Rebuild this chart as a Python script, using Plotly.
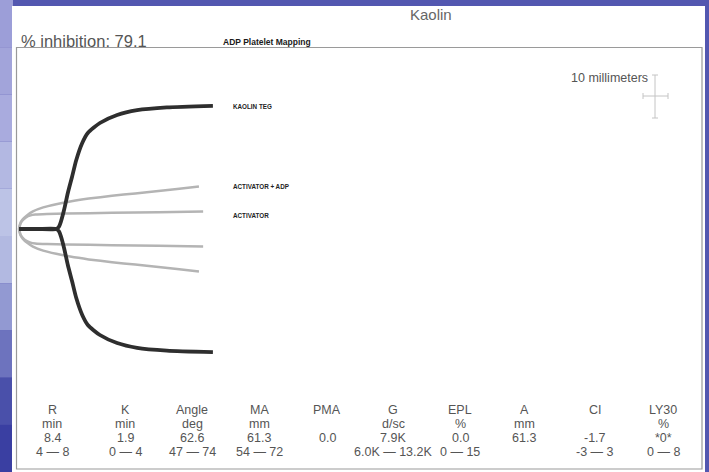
import plotly.graph_objects as go

# ---- data (time in minutes, half-amplitude in mm) ----
kaolin_t = [0, 4.0, 8.0, 8.6, 9.0, 9.7, 10.5, 11.4, 12.3, 13.6, 14.8, 17.4, 21.1, 25.4, 31.8, 41.7]
kaolin_a = [0, 0, 0, 0.6, 1.8, 4.8, 9.0, 13.0, 17.2, 21.5, 24.0, 26.5, 28.5, 29.7, 30.4, 30.8]

adp_t = [0, 0.3, 0.8, 1.7, 3.0, 5.2, 8.0, 11.0, 15.0, 20.0, 25.0, 30.0, 34.0, 38.7]
adp_a = [0, 1.5, 2.4, 3.4, 4.4, 5.4, 6.2, 6.9, 7.6, 8.3, 8.9, 9.5, 10.0, 10.6]

act_t = [0, 0.3, 0.8, 1.5, 2.5, 3.5, 6.0, 10.0, 20.0, 30.0, 39.6]
act_a = [0, 1.3, 2.2, 2.9, 3.4, 3.6, 3.75, 3.85, 4.05, 4.2, 4.4]

curve_labels = ["KAOLIN TEG", "ACTIVATOR + ADP", "ACTIVATOR"]

param_names = ["R", "K", "Angle", "MA", "PMA", "G", "EPL", "A", "CI", "LY30"]
param_units = ["min", "min", "deg", "mm", "", "d/sc", "%", "mm", "", "%"]
param_values = ["8.4", "1.9", "62.6", "61.3", "0.0", "7.9K", "0.0", "61.3", "-1.7", "*0*"]
param_ranges = ["4 \u2014 8", "0 \u2014 4", "47 \u2014 74", "54 \u2014 72", "",
                "6.0K \u2014 13.2K", "0 \u2014 15", "", "-3 \u2014 3", "0 \u2014 8"]

W, H = 709, 472
def px(x):
    return x / W
def py(y):
    return 1 - y / H

# axis scaling: x px = 19 + t*4.65 ; y px = 229 - a*4
X0, XS = 19.0, 4.65
Y0, YS = 229.0, 4.0
xr = [(0 - X0) / XS, (W - X0) / XS]
yr = [(Y0 - H) / YS, (Y0 - 0) / YS]

fig = go.Figure()
gray = "#b4b4b4"
for t, a in [(adp_t, adp_a), (act_t, act_a)]:
    for s in (1, -1):
        fig.add_trace(go.Scatter(x=t, y=[s * v for v in a], mode="lines",
                                 line=dict(color=gray, width=2.5, shape="spline", smoothing=0.6),
                                 hoverinfo="skip", showlegend=False))
for s in (1, -1):
    fig.add_trace(go.Scatter(x=kaolin_t, y=[s * v for v in kaolin_a], mode="lines",
                             line=dict(color="#2e2e2e", width=3.8, shape="spline", smoothing=0.6),
                             hoverinfo="skip", showlegend=False))

shapes = []
shapes.append(dict(type="rect", xref="paper", yref="paper", x0=0, x1=1, y0=0, y1=1,
                   fillcolor="#5357b0", line=dict(width=0), layer="below"))
left_cols = ["#9c9ed8", "#a2a4da", "#a9abde", "#b3b8e2", "#bcc3e6", "#b2b9e1",
             "#9299d2", "#6d73be", "#4a50aa", "#3a3fa2"]
n = len(left_cols)
for i, c in enumerate(left_cols):
    shapes.append(dict(type="rect", xref="paper", yref="paper", x0=0, x1=px(13),
                       y0=py(H * (i + 1) / n), y1=py(H * i / n),
                       fillcolor=c, line=dict(width=0), layer="below"))
shapes.append(dict(type="rect", xref="paper", yref="paper", x0=px(12), x1=px(705),
                   y0=0, y1=py(6), fillcolor="#ffffff", line=dict(width=0), layer="below"))
shapes.append(dict(type="rect", xref="paper", yref="paper", x0=px(16.5), x1=px(702),
                   y0=py(469), y1=py(47.5), line=dict(color="#9a9a9a", width=1.2),
                   fillcolor="rgba(0,0,0,0)", layer="below"))
sc = "#c4c4c4"
shapes += [
    dict(type="line", xref="paper", yref="paper", x0=px(655), x1=px(655), y0=py(118), y1=py(75), line=dict(color=sc, width=1)),
    dict(type="line", xref="paper", yref="paper", x0=px(643), x1=px(668), y0=py(96), y1=py(96), line=dict(color=sc, width=1)),
    dict(type="line", xref="paper", yref="paper", x0=px(652), x1=px(658), y0=py(75), y1=py(75), line=dict(color=sc, width=1)),
    dict(type="line", xref="paper", yref="paper", x0=px(652), x1=px(658), y0=py(118), y1=py(118), line=dict(color=sc, width=1)),
    dict(type="line", xref="paper", yref="paper", x0=px(643), x1=px(643), y0=py(99), y1=py(93), line=dict(color=sc, width=1)),
    dict(type="line", xref="paper", yref="paper", x0=px(668), x1=px(668), y0=py(99), y1=py(93), line=dict(color=sc, width=1)),
]

ann = []
def txt(x, y, s, size, color="#555555", bold=False, xanchor="left", fam="Liberation Sans, Arial, sans-serif"):
    ann.append(dict(x=px(x), y=py(y), xref="paper", yref="paper", text=(f"<b>{s}</b>" if bold else s),
                    showarrow=False, xanchor=xanchor, yanchor="middle",
                    font=dict(size=size, color=color, family=fam)))

txt(19, 41, "% inhibition: 79.1", 16.5)
txt(221, 42, "ADP Platelet Mapping", 8.5, color="#1a1a1a", bold=True)
txt(431, 14, "Kaolin", 15, color="#666666", xanchor="center")
txt(569, 78, "10 millimeters", 12.5)

label_y = [107, 186, 215]
for lab, yy in zip(curve_labels, label_y):
    txt(231, yy, lab, 6.3, color="#222222", bold=True)

col_x = [52, 125, 192, 259, 327, 393, 460, 524, 595, 663]
row_y = [410, 424, 438, 452]
for i, cx in enumerate(col_x):
    for rows, ry in zip([param_names, param_units, param_values, param_ranges], row_y):
        if rows[i]:
            txt(cx, ry, rows[i], 12.5, xanchor="center")

fig.update_layout(
    width=W, height=H, margin=dict(l=0, r=0, t=0, b=0),
    paper_bgcolor="#5357b0", plot_bgcolor="rgba(0,0,0,0)",
    xaxis=dict(range=xr, visible=False, fixedrange=True),
    yaxis=dict(range=yr, visible=False, fixedrange=True),
    shapes=shapes, annotations=ann, showlegend=False,
)
fig.write_html("out.html", config={"displayModeBar": False},
               post_script="document.body.style.margin='0';document.body.style.overflow='hidden';")
